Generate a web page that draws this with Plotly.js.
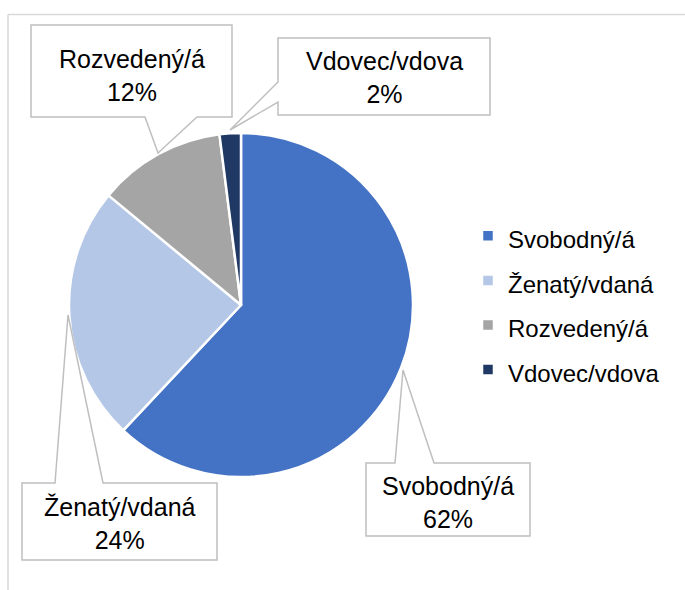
<!DOCTYPE html>
<html>
<head>
<meta charset="utf-8">
<script src="https://cdn.plot.ly/plotly-3.0.1.min.js"></script>
<style>
html,body{margin:0;padding:0;background:#fff;}
#chart{width:685px;height:590px;}
</style>
</head>
<body>
<div id="chart"></div>
<script>
// ---- data ----
const categories = ["Svobodný/á", "Ženatý/vdaná", "Rozvedený/á", "Vdovec/vdova"];
const shares = [62, 24, 12, 2];
const colors = ["#4472C4", "#B4C7E7", "#A5A5A5", "#203864"];

// ---- layout helpers (pixel -> paper) ----
const W = 685, H = 590;
const px = x => x / W;
const py = y => 1 - y / H;
function path(points) {
  return points.map((p, i) => (i ? "L" : "M") + px(p[0]).toFixed(5) + "," + py(p[1]).toFixed(5)).join(" ") + " Z";
}

const FONT = "Liberation Sans, Arial, sans-serif";

// callout outlines (box + pointer), one per category, in pixels
const callouts = [
  { // Svobodný/á
    outline: [[366,463],[395,463],[403,370],[434,463],[530,463],[530,536],[366,536]],
    text: [448, 502]
  },
  { // Ženatý/vdaná
    outline: [[22,483],[55,483],[68,315],[103,483],[217,483],[217,560],[22,560]],
    text: [120, 523]
  },
  { // Rozvedený/á
    outline: [[31,25],[232,25],[232,117],[197,117],[158,153],[145,117],[31,117]],
    text: [131.5, 76]
  },
  { // Vdovec/vdova
    outline: [[278,38],[490,38],[490,115],[278,115],[278,102],[230,130],[278,82]],
    text: [384, 77]
  }
];

const shapes = [
  // outer chart frame (top and left visible)
  {type: "line", xref: "paper", yref: "paper", x0: px(8), x1: px(685), y0: py(14.5), y1: py(14.5),
   line: {color: "#D9D9D9", width: 1.5}},
  {type: "line", xref: "paper", yref: "paper", x0: px(8), x1: px(8), y0: py(14.5), y1: py(590),
   line: {color: "#D9D9D9", width: 1.5}}
];
const annotations = [];
categories.forEach((c, i) => {
  const co = callouts[i];
  shapes.push({type: "path", xref: "paper", yref: "paper", path: path(co.outline),
    fillcolor: "#FFFFFF", line: {color: "#BFBFBF", width: 1.5}, layer: "above"});
  annotations.push({xref: "paper", yref: "paper", x: px(co.text[0]), y: py(co.text[1]),
    xanchor: "center", yanchor: "middle", showarrow: false, align: "center",
    text: c + "<br>" + shares[i] + "%",
    font: {family: FONT, size: 25, color: "#000000"}});
});

const trace = {
  type: "pie",
  labels: categories.map(c => '<span style="font-size:24px">' + c + '</span>'),
  values: shares,
  sort: false,
  direction: "clockwise",
  rotation: 0,
  marker: {colors: colors, line: {color: "#FFFFFF", width: 2.5}},
  textinfo: "none",
  hoverinfo: "none",
  domain: {x: [px(69), px(413)], y: [py(477), py(133)]}
};

const layout = {
  width: W, height: H,
  margin: {l: 0, r: 0, t: 0, b: 0},
  paper_bgcolor: "#FFFFFF",
  showlegend: true,
  legend: {x: px(468), y: py(303), xanchor: "left", yanchor: "middle",
    font: {family: FONT, size: 32, color: "#000000"}, bgcolor: "rgba(0,0,0,0)"},
  shapes: shapes,
  annotations: annotations
};

Plotly.newPlot("chart", [trace], layout, {displayModeBar: false, staticPlot: true});
</script>
</body>
</html>
